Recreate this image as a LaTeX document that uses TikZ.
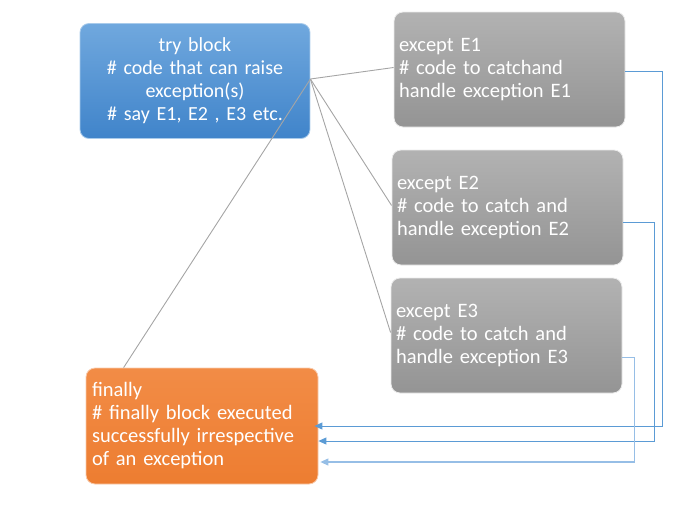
\documentclass[tikz,border=0pt]{standalone}
\usepackage{fontspec}
\setmainfont{Carlito}
\usetikzlibrary{arrows.meta,calc}
\definecolor{tryTop}{RGB}{112,168,222}
\definecolor{tryBot}{RGB}{64,132,202}
\definecolor{grayTop}{RGB}{178,178,178}
\definecolor{grayBot}{RGB}{148,148,148}
\definecolor{finCol}{RGB}{237,125,49}
\definecolor{finTop}{RGB}{242,140,70}
\definecolor{conGray}{RGB}{165,165,165}
\definecolor{conBlue}{RGB}{91,155,213}
\definecolor{conLight}{RGB}{150,190,230}
\tikzset{
  box/.style={rounded corners=9pt, minimum height=115pt, text=white, inner ysep=0pt},
  trybox/.style={box, top color=tryTop, bottom color=tryBot, draw=tryTop!60!white, line width=0.8pt,
     text width=214pt, minimum width=230pt, inner xsep=8pt, align=center,
     font=\fontsize{20}{23}\selectfont},
  excbox/.style={box, top color=grayTop, bottom color=grayBot, draw=white!85!gray, line width=0.8pt,
     text width=221pt, minimum width=231pt, inner xsep=5pt, align=left,
     font=\fontsize{20.5}{23}\selectfont},
  finbox/.style={box, top color=finTop, bottom color=finCol, draw=finCol!40!white, line width=0.8pt,
     text width=220pt, minimum width=232pt, minimum height=116pt, inner xsep=6pt, align=left,
     font=\fontsize{20.5}{23}\selectfont},
  grayline/.style={draw=conGray, line width=0.9pt},
  bluearrow/.style={draw=conBlue, line width=0.9pt, -{Triangle[length=8pt,width=7pt]}},
  lightarrow/.style={draw=conLight, line width=1.2pt, -{Triangle[length=8pt,width=7pt]}, },
}
\begin{document}
\begin{tikzpicture}[x=1pt,y=-1pt]
\useasboundingbox (0,0) rectangle (699,504);
\node[trybox] (try) at (195,81) {try block\\\# code that can raise\\exception(s)\\\# say E1, E2 , E3 etc.};
\node[excbox] (e1) at (509.5,69.5) {except E1\\\# code to catchand\\handle exception E1};
\node[excbox] (e2) at (507.5,207.5) {except E2\\\# code to catch and\\handle exception E2};
\node[excbox] (e3) at (506.5,335.5) {except E3\\\# code to catch and\\handle exception E3};
\node[finbox] (fin) at (202,426) {finally\\\# finally block executed\\successfully irrespective\\of an exception};
\coordinate (hub) at ([yshift=2pt]try.east);
\coordinate (fintop) at ($(fin.north west)+(38,0)$);
\draw[grayline] (hub) -- ([yshift=2pt]e1.west);
\draw[grayline] (hub) -- ([yshift=2pt]e2.west);
\draw[grayline] (hub) -- ([yshift=3pt]e3.west);
\draw[grayline] (hub) -- (fintop);
\draw[bluearrow] ([yshift=-2pt]e1.east) -- ++(37,0) |- ([xshift=-4pt]fin.east);
\draw[bluearrow] ([yshift=-15pt]e2.east) -- ++(31,0) |- ([yshift=-15pt]fin.east);
\draw[lightarrow] ([yshift=-22pt]e3.east) -- ++(12,0) |- ([xshift=2pt,yshift=-36pt]fin.east);
\end{tikzpicture}
\end{document}
